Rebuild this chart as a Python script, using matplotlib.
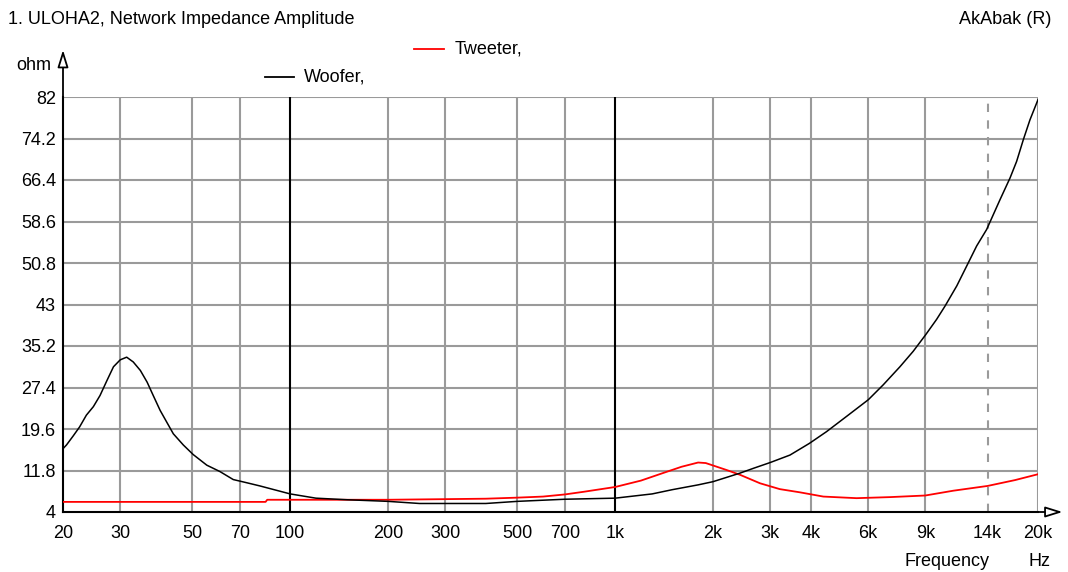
import matplotlib
matplotlib.use("Agg")
import matplotlib.pyplot as plt
from matplotlib.lines import Line2D

plt.rcParams['font.family'] = ['Liberation Sans', 'DejaVu Sans']
plt.rcParams['font.size'] = 13

# woofer impedance (ohm) vs frequency (Hz)
woofer_f = [20, 20.5, 21.5, 22.5, 23.6, 24.8, 26, 27.3, 28.6, 30, 31.4, 32.9, 34.6,
            36.3, 37.9, 39.8, 41.7, 43.7, 46.9, 50.3, 55.4, 60.8, 66.8, 73.5, 80.7,
            100, 120, 150, 200, 250, 300, 400, 500, 700, 1000, 1300, 1500, 1800,
            2000, 2420, 2660, 3000, 3450, 3960, 4470, 5160, 6010, 6680, 7520, 8260,
            9020, 9750, 10350, 11250, 12220, 12950, 13900, 15280, 16410, 17190,
            18030, 18890, 20000]
woofer_z = [15.9, 16.6, 18.3, 20.0, 22.2, 23.8, 25.9, 28.7, 31.3, 32.6, 33.1, 32.2,
            30.6, 28.4, 25.9, 23.1, 20.9, 18.7, 16.6, 14.8, 12.8, 11.6, 10.1, 9.5,
            8.9, 7.4, 6.6, 6.3, 6.0, 5.6, 5.6, 5.6, 6.0, 6.4, 6.6, 7.4, 8.2, 9.1,
            9.7, 11.3, 12.2, 13.3, 14.7, 16.9, 19.1, 22.0, 25.1, 27.9, 31.3, 34.2,
            37.3, 40.2, 42.7, 46.5, 50.9, 54.0, 57.1, 62.7, 66.8, 69.9, 74.0, 77.7,
            81.5]

# tweeter impedance
tweeter_f = [20, 84, 85, 200, 400, 500, 600, 700, 800, 1000, 1200, 1400, 1600, 1800,
             1900, 2200, 2420, 2790, 3210, 3700, 4370, 5530, 7020, 9000, 10970,
             14000, 17000, 20000]
tweeter_z = [5.9, 5.9, 6.3, 6.3, 6.5, 6.7, 6.9, 7.3, 7.8, 8.7, 9.9, 11.3, 12.5, 13.3,
             13.2, 11.9, 11.0, 9.4, 8.3, 7.7, 6.9, 6.6, 6.8, 7.1, 8.0, 8.9, 10.0, 11.1]

x_ticks = [20, 30, 50, 70, 100, 200, 300, 500, 700, 1000, 2000, 3000, 4000, 6000,
           9000, 14000, 20000]
x_labels = ["20", "30", "50", "70", "100", "200", "300", "500", "700", "1k", "2k",
            "3k", "4k", "6k", "9k", "14k", "20k"]
y_ticks = [4, 11.8, 19.6, 27.4, 35.2, 43, 50.8, 58.6, 66.4, 74.2, 82]
y_labels = ["4", "11.8", "19.6", "27.4", "35.2", "43", "50.8", "58.6", "66.4", "74.2", "82"]

W, H = 1068, 572
fig = plt.figure(figsize=(W / 100, H / 100), dpi=100)
ax = fig.add_axes([63 / W, 1 - 512 / H, 975 / W, 415 / H])

def px(x, y):
    return x / W, 1 - y / H

ax.set_xscale('log')
ax.set_xlim(20, 20000)
ax.set_ylim(4, 82)

# grid: gray, 100 and 1k black, 14k dashed
grid_col = '#9a9a9a'
for t in y_ticks[1:]:
    ax.axhline(t, color=grid_col, lw=1.5, zorder=1)
for t in x_ticks[1:]:
    if t in (100, 1000):
        ax.axvline(t, color='black', lw=1.5, zorder=1.5)
    elif t == 14000:
        ax.axvline(t, color=grid_col, lw=1.5, ls=(0, (4, 4)), zorder=1)
    else:
        ax.axvline(t, color=grid_col, lw=1.5, zorder=1)

ax.plot(tweeter_f, tweeter_z, color='#ff0000', lw=1.3, zorder=3)
ax.plot(woofer_f, woofer_z, color='black', lw=1.1, zorder=4)

ax.set_xticks(x_ticks)
ax.set_xticklabels(x_labels)
ax.xaxis.set_minor_locator(plt.NullLocator())
ax.set_yticks(y_ticks)
ax.set_yticklabels(y_labels)
ax.tick_params(length=0)
ax.tick_params(axis='x', pad=9)
ax.tick_params(axis='y', pad=5)

for s in ('top', 'right'):
    ax.spines[s].set_visible(False)
for s in ('left', 'bottom'):
    ax.spines[s].set_color('black')
    ax.spines[s].set_linewidth(1.5)

# axis arrows
ax.annotate('', xy=(0, 1.12), xytext=(0, 0.99), xycoords='axes fraction',
            arrowprops=dict(arrowstyle='-|>,head_length=0.8,head_width=0.25',
                            fc='white', ec='black', lw=1.3), annotation_clip=False)
ax.annotate('', xy=(1.028, 0), xytext=(0.99, 0), xycoords='axes fraction',
            arrowprops=dict(arrowstyle='-|>,head_length=0.8,head_width=0.25',
                            fc='white', ec='black', lw=1.3), annotation_clip=False)

# texts
fig.text(*px(8, 20), "1. ULOHA2, Network Impedance Amplitude", va='center', ha='left')
fig.text(*px(1051, 20), "AkAbak (R)", va='center', ha='right')
fig.text(*px(51, 66), "ohm", va='center', ha='right')
fig.text(*px(947, 561), "Frequency", va='center', ha='center')
fig.text(*px(1039, 561), "Hz", va='center', ha='center')

# legend
fig.add_artist(Line2D([414 / W, 444 / W], [1 - 49 / H] * 2, color='#ff0000', lw=1.3))
fig.text(*px(455, 49), "Tweeter,", va='center', ha='left')
fig.add_artist(Line2D([265 / W, 294 / W], [1 - 77 / H] * 2, color='black', lw=1.3))
fig.text(*px(304, 77), "Woofer,", va='center', ha='left')

fig.savefig("out.png", dpi=100, facecolor='white')
